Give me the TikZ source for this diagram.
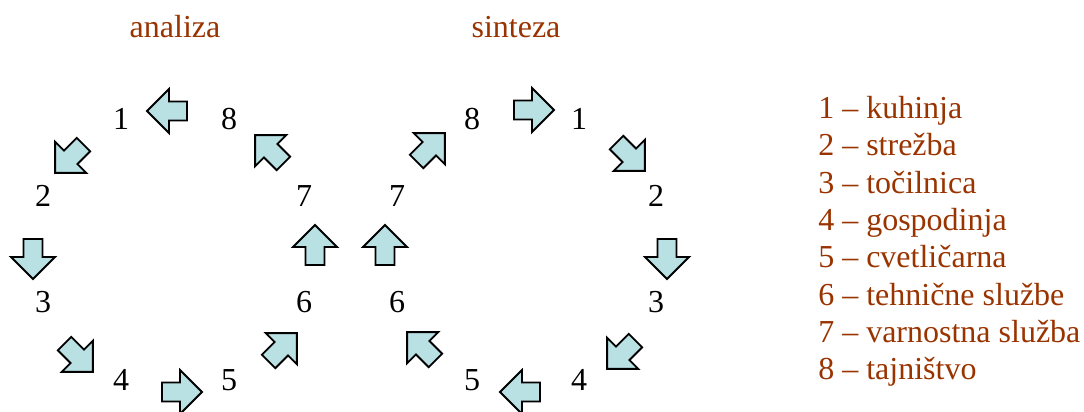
\documentclass[tikz,border=0pt]{standalone}
\usepackage{fontspec}
\setmainfont{Liberation Serif}
\definecolor{labelred}{RGB}{153,51,0}
\definecolor{arrowfill}{RGB}{185,224,226}
\begin{document}
\begin{tikzpicture}[x=0.75pt,y=-0.75pt,
  txt/.style={inner sep=0pt,font=\fontsize{24}{28}\selectfont},
  num/.style={txt,anchor=base,text=black},
  title/.style={txt,anchor=base,text=labelred},
  legend/.style={txt,anchor=base west,text=labelred},
  arrowstyle/.style={draw=black,fill=arrowfill,line width=1.4pt,line join=miter},
  blockarrow/.pic={\path[arrowstyle] (-19,-9.5) -- (-1,-9.5) -- (-1,-22) -- (21,0) -- (-1,22) -- (-1,9.5) -- (-19,9.5) -- cycle;}]
\useasboundingbox (0,0) rectangle (1084,411);
\clip (0,0) rectangle (1084,411);

% titles
\node[title] (tA) at (175,37) {analiza};
\node[title] (tS) at (516,37) {sinteza};

% analysis ring: numbers
\node[num] (a1) at (121,129) {1};
\node[num] (a8) at (229,129) {8};
\node[num] (a2) at (43,206) {2};
\node[num] (a7) at (304,206) {7};
\node[num] (a3) at (43,312) {3};
\node[num] (a6) at (304,312) {6};
\node[num] (a4) at (121,390) {4};
\node[num] (a5) at (229,390) {5};

% analysis ring: arrows (counter-clockwise)
\pic[rotate=180] at (168,111) {blockarrow};
\pic[rotate=225] at (70,158) {blockarrow};
\pic[rotate=270] at (33,258) {blockarrow};
\pic[rotate=315] at (78,357) {blockarrow};
\pic[rotate=0]   at (181,392) {blockarrow};
\pic[rotate=45]  at (282,348) {blockarrow};
\pic[rotate=90]  at (315,246) {blockarrow};
\pic[rotate=135] at (270,150) {blockarrow};

% synthesis ring: numbers
\node[num] (s8) at (472,129) {8};
\node[num] (s1) at (579,129) {1};
\node[num] (s7) at (397,206) {7};
\node[num] (s2) at (656,206) {2};
\node[num] (s6) at (397,312) {6};
\node[num] (s3) at (656,312) {3};
\node[num] (s5) at (472,390) {5};
\node[num] (s4) at (579,390) {4};

% synthesis ring: arrows (clockwise)
\pic[rotate=0]   at (533,110) {blockarrow};
\pic[rotate=315] at (630,156) {blockarrow};
\pic[rotate=270] at (667,258) {blockarrow};
\pic[rotate=225] at (622,354) {blockarrow};
\pic[rotate=180] at (521,392) {blockarrow};
\pic[rotate=135] at (422,347) {blockarrow};
\pic[rotate=90]  at (385,246) {blockarrow};
\pic[rotate=45]  at (430,148) {blockarrow};

% legend
\node[legend] (l1) at (818,118) {1 – kuhinja};
\node[legend] (l2) at (818,155.5) {2 – strežba};
\node[legend] (l3) at (818,193) {3 – točilnica};
\node[legend] (l4) at (818,230) {4 – gospodinja};
\node[legend] (l5) at (818,267.5) {5 – cvetličarna};
\node[legend] (l6) at (818,305) {6 – tehnične službe};
\node[legend] (l7) at (818,342) {7 – varnostna služba};
\node[legend] (l8) at (818,379) {8 – tajništvo};
\end{tikzpicture}
\end{document}
